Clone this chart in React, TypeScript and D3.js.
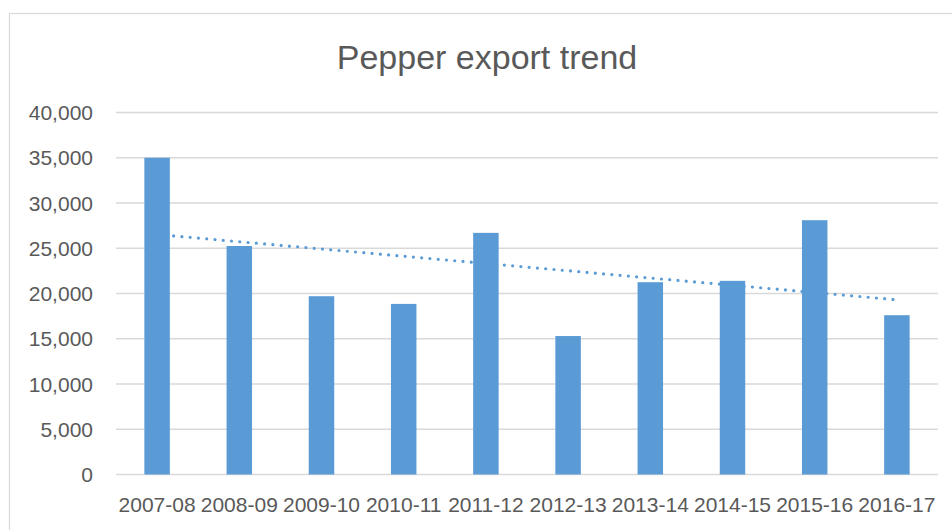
import React from "react";
import * as d3 from "d3";

const categories = ["2007-08", "2008-09", "2009-10", "2010-11", "2011-12", "2012-13", "2013-14", "2014-15", "2015-16", "2016-17"];
const exportValues = [35000, 25250, 19700, 18850, 26700, 15300, 21250, 21400, 28100, 17600];
const yTicks = [0, 5000, 10000, 15000, 20000, 25000, 30000, 35000, 40000];
const title = "Pepper export trend";

const W = 952;
const H = 530;
const plot = { left: 116, right: 938, top: 112.5, bottom: 474.5 };
const barColor = "#5B9BD5";
const textColor = "#595959";
const gridColor = "#D9D9D9";
const font = "'Liberation Sans', Arial, sans-serif";

export default function App() {
  const x = d3.scaleBand<string>().domain(categories).range([plot.left, plot.right]).paddingInner(0.69).paddingOuter(0.345);
  const y = d3.scaleLinear().domain([0, 40000]).range([plot.bottom, plot.top]);
  const fmt = d3.format(",");

  // linear trendline (least squares over category index)
  const n = exportValues.length;
  const xs = exportValues.map((_, i) => i + 1);
  const mx = d3.mean(xs) as number;
  const my = d3.mean(exportValues) as number;
  const sxy = d3.sum(xs.map((xi, i) => (xi - mx) * (exportValues[i] - my)));
  const sxx = d3.sum(xs.map((xi) => (xi - mx) ** 2));
  const slope = sxy / sxx;
  const intercept = my - slope * mx;
  const centerX = (c: string) => (x(c) as number) + x.bandwidth() / 2;
  const trendPts: [number, number][] = [
    [centerX(categories[0]), y(intercept + slope * 1)],
    [centerX(categories[n - 1]), y(intercept + slope * n)],
  ];
  const line = d3.line();

  return (
    <svg width={W} height={H} style={{ position: "absolute", left: 0, top: 0, background: "#fff" }} fontFamily={font}>
      <rect x={0} y={0} width={W} height={H} fill="#fff" />
      <rect x={9.5} y={13.5} width={W + 20} height={H + 20} fill="#fff" stroke={gridColor} strokeWidth={1.2} />
      <text x={487} y={69} textAnchor="middle" fontSize={34} fill={textColor}>{title}</text>
      {yTicks.map((t) => (
        <g key={t}>
          <line x1={plot.left} x2={plot.right} y1={y(t)} y2={y(t)} stroke={gridColor} strokeWidth={1.3} />
          <text x={93} y={y(t)} dy="0.36em" textAnchor="end" fontSize={21} fill={textColor}>{fmt(t)}</text>
        </g>
      ))}
      {categories.map((c, i) => (
        <rect key={c} x={x(c)} y={y(exportValues[i])} width={x.bandwidth()} height={y(0) - y(exportValues[i])} fill={barColor} />
      ))}
      <path d={line(trendPts) as string} fill="none" stroke={barColor} strokeWidth={3.2} strokeLinecap="round" strokeDasharray="0 8.3" />
      {categories.map((c) => (
        <text key={c} x={centerX(c)} y={511.5} textAnchor="middle" fontSize={21} fill={textColor}>{c}</text>
      ))}
    </svg>
  );
}
